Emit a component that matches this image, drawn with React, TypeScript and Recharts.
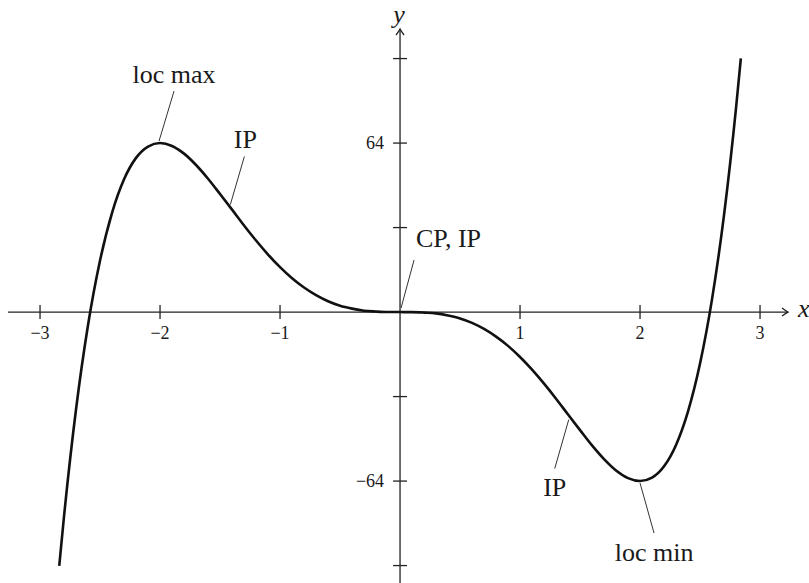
import React from 'react';
import { LineChart, Line, XAxis, YAxis, ReferenceLine, ReferenceDot } from 'recharts';

// curve samples (x in units, y in units)
const xs = [
  -2.84, -2.8, -2.7, -2.6, -2.5, -2.4, -2.3, -2.2, -2.1, -2.0, -1.9, -1.8, -1.7, -1.6, -1.5,
  -1.4, -1.3, -1.2, -1.1, -1.0, -0.9, -0.8, -0.7, -0.6, -0.5, -0.4, -0.3, -0.2, -0.1, 0,
  0.1, 0.2, 0.3, 0.4, 0.5, 0.6, 0.7, 0.8, 0.9, 1.0, 1.1, 1.2, 1.3, 1.4, 1.5,
  1.6, 1.7, 1.8, 1.9, 2.0, 2.1, 2.2, 2.3, 2.4, 2.5, 2.6, 2.7, 2.8, 2.84,
];
const ys = [
  -96.1, -77.3, -36.8, -4.9, 19.5, 37.6, 50.3, 58.4, 62.7, 64.0, 62.9, 60.0, 55.7, 50.5, 44.7,
  38.8, 32.8, 27.1, 21.8, 17.0, 12.8, 9.3, 6.4, 4.1, 2.4, 1.3, 0.5, 0.2, 0.02, 0,
  -0.02, -0.2, -0.5, -1.3, -2.4, -4.1, -6.4, -9.3, -12.8, -17.0, -21.8, -27.1, -32.8, -38.8, -44.7,
  -50.5, -55.7, -60.0, -62.9, -64.0, -62.7, -58.4, -50.3, -37.6, -19.5, 4.9, 36.8, 77.3, 96.1,
];

const xTicks = [-3, -2, -1, 1, 2, 3];
const xTickLabels = ['−3', '−2', '−1', '1', '2', '3'];
const yTicks = [96, 64, 32, -32, -64, -96];
const yTickLabels = ['', '64', '', '', '−64', ''];

const noteLabels = ['loc max', 'IP', 'CP, IP', 'IP', 'loc min'];
const noteX = [-2, -1.414, 0, 1.414, 2];
const noteY = [64, 39.6, 0, -39.6, -64];

// pixel offsets of leader lines and text from each marked point
const noteStyle = [
  { x1: -1, y1: -2, x2: 14, y2: -52, tx: 14, ty: -60, anchor: 'middle' },
  { x1: 0, y1: -3, x2: 14, y2: -51, tx: 15, ty: -60, anchor: 'middle' },
  { x1: 1, y1: -4, x2: 14, y2: -52, tx: 16, ty: -65, anchor: 'start' },
  { x1: -1, y1: 3, x2: -15, y2: 52, tx: -15, ty: 79, anchor: 'middle' },
  { x1: 0, y1: 2, x2: 14, y2: 52, tx: 14, ty: 80, anchor: 'middle' },
];

const X_DOMAIN: [number, number] = [-3.267, 3.233];
const Y_DOMAIN: [number, number] = [-102.6, 107.2];

const data = xs.map((x, i) => ({ x, y: ys[i] }));

const FONT = "'Liberation Serif', 'DejaVu Serif', serif";
const INK = '#1a1a1a';
const AXIS = '#222';

const txt = (size: number, italic = false) => ({
  fontFamily: FONT,
  fontSize: size,
  fontStyle: italic ? 'italic' : 'normal',
});

const xTickShape = (label: string) => (p: any) => (
  <g>
    <line x1={p.cx} y1={p.cy - 7} x2={p.cx} y2={p.cy + 7} stroke={AXIS} strokeWidth={1.3} />
    <text x={p.cx} y={p.cy + 27} textAnchor="middle" style={txt(18)} fill={INK}>
      {label}
    </text>
  </g>
);

const yTickShape = (label: string) => (p: any) => (
  <g>
    <line x1={p.cx - 7} y1={p.cy} x2={p.cx + 7} y2={p.cy} stroke={AXIS} strokeWidth={1.3} />
    {label && (
      <text x={p.cx - 16} y={p.cy + 6} textAnchor="end" style={txt(18)} fill={INK}>
        {label}
      </text>
    )}
  </g>
);

const noteShape = (i: number) => (p: any) => {
  const s = noteStyle[i];
  return (
    <g>
      <line
        x1={p.cx + s.x1}
        y1={p.cy + s.y1}
        x2={p.cx + s.x2}
        y2={p.cy + s.y2}
        stroke="#333"
        strokeWidth={1}
      />
      <text x={p.cx + s.tx} y={p.cy + s.ty} textAnchor={s.anchor as any} style={txt(26)} fill={INK}>
        {noteLabels[i]}
      </text>
    </g>
  );
};

const xArrow = (p: any) => (
  <g>
    <path
      d={`M${p.cx - 6},${p.cy - 4} Q${p.cx - 2},${p.cy - 1} ${p.cx},${p.cy} Q${p.cx - 2},${p.cy + 1} ${p.cx - 6},${p.cy + 4}`}
      fill="none"
      stroke={AXIS}
      strokeWidth={1.3}
    />
    <text x={p.cx + 10} y={p.cy + 5} style={txt(26, true)} fill={INK}>
      x
    </text>
  </g>
);

const yArrow = (p: any) => (
  <g>
    <path
      d={`M${p.cx - 4},${p.cy + 6} Q${p.cx - 1},${p.cy + 2} ${p.cx},${p.cy} Q${p.cx + 1},${p.cy + 2} ${p.cx + 4},${p.cy + 6}`}
      fill="none"
      stroke={AXIS}
      strokeWidth={1.3}
    />
    <text x={p.cx - 1} y={p.cy - 6} textAnchor="middle" style={txt(26, true)} fill={INK}>
      y
    </text>
  </g>
);

export default function App() {
  return (
    <div style={{ position: 'absolute', left: 0, top: 0, background: '#fff' }}>
      <LineChart width={809} height={583} data={data} margin={{ top: 29, right: 21, bottom: 0, left: 8 }}>
        <XAxis type="number" dataKey="x" domain={X_DOMAIN} allowDataOverflow hide />
        <YAxis type="number" domain={Y_DOMAIN} allowDataOverflow hide />
        <ReferenceLine y={0} stroke={AXIS} strokeWidth={1.3} />
        <ReferenceLine x={0} stroke={AXIS} strokeWidth={1.3} />
        {xTicks.map((t, i) => (
          <ReferenceDot key={'xt' + t} x={t} y={0} ifOverflow="visible" shape={xTickShape(xTickLabels[i])} />
        ))}
        {yTicks.map((t, i) => (
          <ReferenceDot key={'yt' + t} x={0} y={t} ifOverflow="visible" shape={yTickShape(yTickLabels[i])} />
        ))}
        <ReferenceDot x={X_DOMAIN[1]} y={0} ifOverflow="visible" shape={xArrow} />
        <ReferenceDot x={0} y={Y_DOMAIN[1]} ifOverflow="visible" shape={yArrow} />
        <Line
          type="monotone"
          dataKey="y"
          stroke="#111"
          strokeWidth={2.6}
          dot={false}
          activeDot={false}
          isAnimationActive={false}
        />
        {noteLabels.map((_, i) => (
          <ReferenceDot key={'n' + i} x={noteX[i]} y={noteY[i]} ifOverflow="visible" shape={noteShape(i)} />
        ))}
      </LineChart>
    </div>
  );
}
